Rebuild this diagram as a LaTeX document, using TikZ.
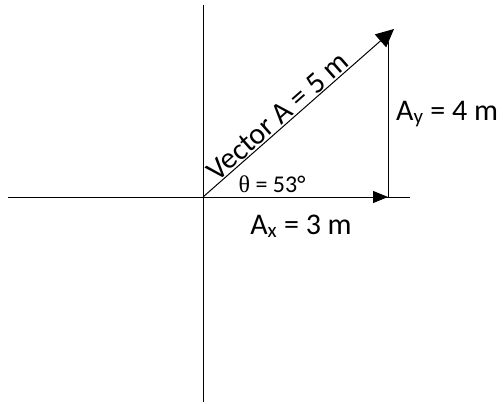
\documentclass[tikz,border=0pt]{standalone}
\usepackage{fontspec}
\setmainfont{Carlito}
\newfontfamily\greekserif{Liberation Serif}
\usetikzlibrary{arrows.meta}

\begin{document}
\begin{tikzpicture}[
  x=1pt, y=-1pt,
  axis/.style={black, line width=1pt},
  vec/.style={black, line width=1pt, -{Triangle[length=15pt, width=12pt]}},
  bigvec/.style={black, line width=1pt, -{Triangle[length=18pt, width=17pt]}},
  lbl/.style={font=\fontsize{30}{34}\selectfont, inner sep=1pt},
  anglbl/.style={font=\fontsize{24}{28}\selectfont, inner sep=1pt},
]
\useasboundingbox (0,0) rectangle (503,404);

% ---------- axes ----------
\coordinate (O)  at (203,197);
\coordinate (xl) at (8,197);
\coordinate (xr) at (410,197);
\coordinate (yt) at (203,5);
\coordinate (yb) at (203,402);
\draw[axis] (xl) -- (xr);
\draw[axis] (yt) -- (yb);

% ---------- components ----------
\coordinate (Ax)  at (388,197);
\coordinate (Ay)  at (388,42);
\coordinate (tip) at (394,29);
\draw[vec] (O) -- (Ax);
\draw[axis] (Ax) -- (Ay);

% ---------- vector A ----------
\draw[bigvec] (O) -- node[lbl, pos=0.43, above, sloped, inner sep=1pt] (vA) {Vector A = 5 m} (tip);

% ---------- labels ----------
\node[lbl, anchor=base] (ax) at (301,234) {A\textsubscript{x} = 3 m};
\node[lbl, anchor=base west] (ay) at (395,120) {A\textsubscript{y} = 4 m};
\node[anglbl, anchor=base] (th) at (272,192) {{\greekserif θ} = 53°};

\end{tikzpicture}
\end{document}
